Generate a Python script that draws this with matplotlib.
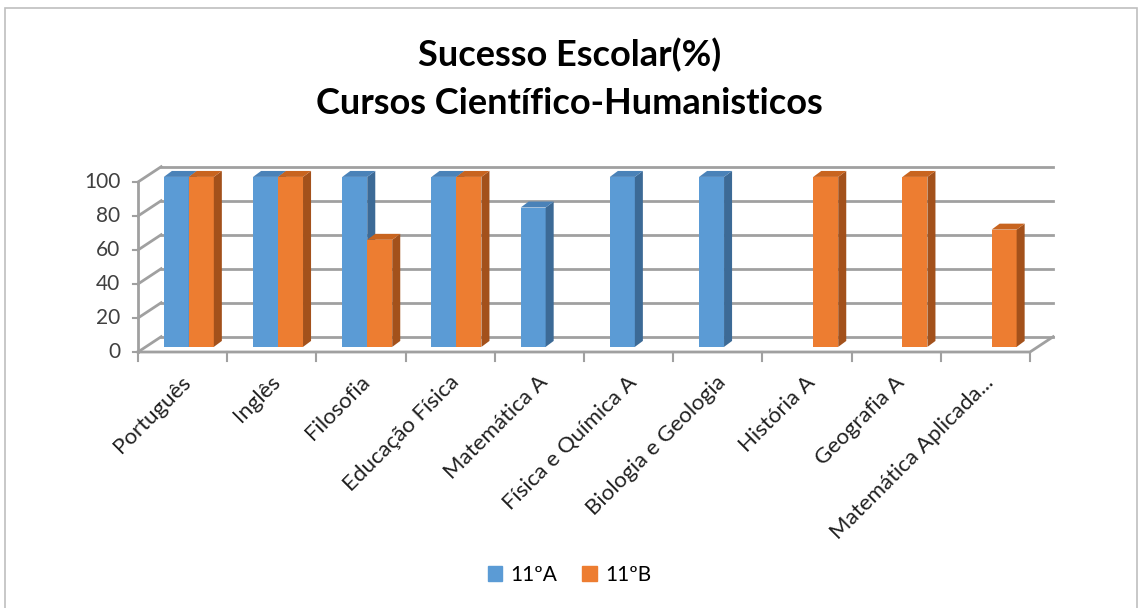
import matplotlib.pyplot as plt
from matplotlib.patches import Polygon, Rectangle

plt.rcParams['font.family'] = ['Lato', 'DejaVu Sans']

# Data
subjects = ['Português', 'Inglês', 'Filosofia', 'Educação Física', 'Matemática A',
            'Física e Química A', 'Biologia e Geologia', 'História A', 'Geografia A',
            'Matemática Aplicada...']
turma_a = [100, 100, 100, 100, 82, 100, 100, None, None, None]
turma_b = [100, 100, 63, 100, None, None, None, 100, 100, 69]
y_ticks = [0, 20, 40, 60, 80, 100]

series = [('11ºA', turma_a, '#5b9bd5', '#3c6a96', '#4a82b8', 0.29),
          ('11ºB', turma_b, '#ed7d31', '#a3511b', '#c8641f', 0.57)]

# fake 3D geometry (in data units)
DX, DY = 0.26, 9.0       # depth of the floor / walls
BW = 0.28                # bar width
BDX, BDY = 0.09, 3.5     # bar depth
BASE = 3.0               # bars sit mid-depth on the floor
grid_c = '#a0a0a0'

fig = plt.figure(figsize=(11.39, 6.08), dpi=100)
ax = fig.add_axes([138 / 1139, (608 - 352) / 608, 922 / 1139, 112 * 1.7 / 608])
ax.set_xlim(0, 922 / 89.2)
ax.set_ylim(0, 112)
ax.axis('off')

n = len(subjects)

# back wall gridlines and left wall
for v in y_ticks:
    ax.plot([DX, n + DX], [v + DY, v + DY], color=grid_c, lw=2, zorder=1)
    ax.plot([0, DX], [v, v + DY], color=grid_c, lw=2, zorder=1, clip_on=False)
    ax.plot([-0.06, 0], [v, v], color=grid_c, lw=1.5, zorder=1, clip_on=False)
    ax.text(-0.2, v, str(v), ha='right', va='center', fontsize=15, color='#404040')
ax.plot([0, 0], [0, y_ticks[-1]], color=grid_c, lw=2, zorder=1, clip_on=False)

# floor edges and category ticks
ax.plot([0, n, n + DX], [0, 0, DY], color=grid_c, lw=2, zorder=1, clip_on=False)
for i in range(n + 1):
    ax.plot([i, i], [0, -5.5], color=grid_c, lw=1.5, zorder=1, clip_on=False)

# bars: front face through ax.bar, side and top as polygons
z = 2
for i in range(n):
    for name, vals, front, side, top, off in series:
        v = vals[i]
        if v is None:
            continue
        x0 = i + off
        ax.bar(x0, v, width=BW, bottom=BASE, align='edge', color=front,
               edgecolor='none', zorder=z)
        h = BASE + v
        ax.add_patch(Polygon([(x0 + BW, BASE), (x0 + BW + BDX, BASE + BDY),
                              (x0 + BW + BDX, h + BDY), (x0 + BW, h)],
                             closed=True, facecolor=side, edgecolor='none', zorder=z))
        ax.add_patch(Polygon([(x0, h), (x0 + BW, h), (x0 + BW + BDX, h + BDY),
                              (x0 + BDX, h + BDY)],
                             closed=True, facecolor=top, edgecolor='none', zorder=z))
        z += 1

# category labels
for i, s in enumerate(subjects):
    ax.text(i + 0.56, -16, s, rotation=45, ha='right', va='center',
            rotation_mode='anchor', fontsize=16, color='#202020')

# titles
fig.text(0.5, 1 - 55 / 608, 'Sucesso Escolar(%)', ha='center', va='center',
         fontsize=26, fontweight='bold', color='black')
fig.text(0.5, 1 - 103 / 608, 'Cursos Científico-Humanisticos', ha='center', va='center',
         fontsize=26, fontweight='bold', color='black')

# legend
handles = [Rectangle((0, 0), 1, 1, color=s[2]) for s in series]
fig.legend(handles, [s[0] for s in series], loc='center', ncol=2,
           bbox_to_anchor=(0.5, 1 - 575 / 608), frameon=False, fontsize=15,
           handlelength=0.7, handleheight=0.7, handletextpad=0.4, columnspacing=1.2)

# outer frame
fig.patches.append(Rectangle((5 / 1139, -0.05), 1132 / 1139, 1.05 - 8 / 608,
                             transform=fig.transFigure, fill=False,
                             edgecolor='#bfbfbf', lw=1.2))

fig.savefig('out.png', dpi=100)
